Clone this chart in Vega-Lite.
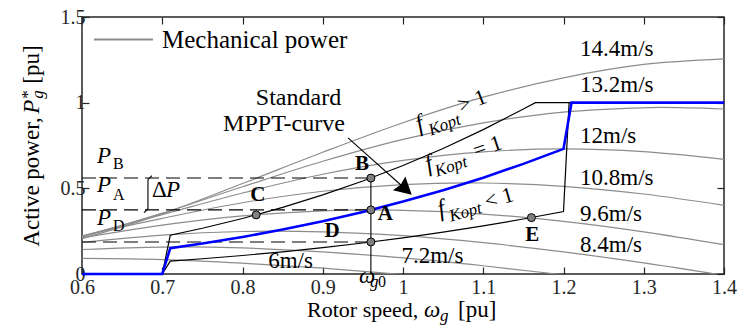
{
  "$schema": "https://vega.github.io/schema/vega-lite/v6.json",
  "width": 642,
  "height": 257,
  "autosize": {"type": "none"},
  "padding": {"left": 82, "top": 17, "right": 14, "bottom": 55},
  "background": "white",
  "config": {
    "view": {"stroke": "#262626", "strokeWidth": 1.5},
    "text": {"font": "Liberation Serif", "color": "black"}
  },
  "datasets": {
    "mech": [
      {"wind": "14.4", "speed": 0.6, "power": 0.206}, {"wind": "14.4", "speed": 0.7, "power": 0.351}, {"wind": "14.4", "speed": 0.8, "power": 0.528}, {"wind": "14.4", "speed": 0.9, "power": 0.7105}, {"wind": "14.4", "speed": 1.0, "power": 0.883}, {"wind": "14.4", "speed": 1.1, "power": 1.032}, {"wind": "14.4", "speed": 1.2, "power": 1.145}, {"wind": "14.4", "speed": 1.3, "power": 1.223}, {"wind": "14.4", "speed": 1.4, "power": 1.256},
      {"wind": "13.2", "speed": 0.6, "power": 0.215}, {"wind": "13.2", "speed": 0.7, "power": 0.355}, {"wind": "13.2", "speed": 0.8, "power": 0.509}, {"wind": "13.2", "speed": 0.9, "power": 0.658}, {"wind": "13.2", "speed": 1.0, "power": 0.786}, {"wind": "13.2", "speed": 1.1, "power": 0.882}, {"wind": "13.2", "speed": 1.2, "power": 0.945}, {"wind": "13.2", "speed": 1.3, "power": 0.970}, {"wind": "13.2", "speed": 1.32, "power": 0.972}, {"wind": "13.2", "speed": 1.4, "power": 0.963},
      {"wind": "12", "speed": 0.6, "power": 0.222}, {"wind": "12", "speed": 0.7, "power": 0.347}, {"wind": "12", "speed": 0.8, "power": 0.473}, {"wind": "12", "speed": 0.9, "power": 0.582}, {"wind": "12", "speed": 1.0, "power": 0.663}, {"wind": "12", "speed": 1.1, "power": 0.713}, {"wind": "12", "speed": 1.2, "power": 0.730}, {"wind": "12", "speed": 1.3, "power": 0.714}, {"wind": "12", "speed": 1.4, "power": 0.669},
      {"wind": "10.8", "speed": 0.6, "power": 0.223}, {"wind": "10.8", "speed": 0.7, "power": 0.325}, {"wind": "10.8", "speed": 0.8, "power": 0.416}, {"wind": "10.8", "speed": 0.9, "power": 0.483}, {"wind": "10.8", "speed": 1.0, "power": 0.522}, {"wind": "10.8", "speed": 1.08, "power": 0.532}, {"wind": "10.8", "speed": 1.1, "power": 0.531}, {"wind": "10.8", "speed": 1.2, "power": 0.512}, {"wind": "10.8", "speed": 1.3, "power": 0.467}, {"wind": "10.8", "speed": 1.4, "power": 0.401},
      {"wind": "9.6", "speed": 0.6, "power": 0.2105}, {"wind": "9.6", "speed": 0.7, "power": 0.285}, {"wind": "9.6", "speed": 0.8, "power": 0.339}, {"wind": "9.6", "speed": 0.9, "power": 0.3685}, {"wind": "9.6", "speed": 0.96, "power": 0.374}, {"wind": "9.6", "speed": 1.0, "power": 0.3716}, {"wind": "9.6", "speed": 1.1, "power": 0.350}, {"wind": "9.6", "speed": 1.2, "power": 0.307}, {"wind": "9.6", "speed": 1.3, "power": 0.246}, {"wind": "9.6", "speed": 1.4, "power": 0.171},
      {"wind": "8.4", "speed": 0.6, "power": 0.184}, {"wind": "8.4", "speed": 0.7, "power": 0.227}, {"wind": "8.4", "speed": 0.8, "power": 0.248}, {"wind": "8.4", "speed": 0.84, "power": 0.250}, {"wind": "8.4", "speed": 0.9, "power": 0.246}, {"wind": "8.4", "speed": 1.0, "power": 0.2235}, {"wind": "8.4", "speed": 1.1, "power": 0.183}, {"wind": "8.4", "speed": 1.2, "power": 0.129}, {"wind": "8.4", "speed": 1.3, "power": 0.065}, {"wind": "8.4", "speed": 1.4, "power": -0.008},
      {"wind": "7.2", "speed": 0.6, "power": 0.143}, {"wind": "7.2", "speed": 0.7, "power": 0.157}, {"wind": "7.2", "speed": 0.72, "power": 0.158}, {"wind": "7.2", "speed": 0.8, "power": 0.152}, {"wind": "7.2", "speed": 0.9, "power": 0.129}, {"wind": "7.2", "speed": 1.0, "power": 0.094}, {"wind": "7.2", "speed": 1.1, "power": 0.048}, {"wind": "7.2", "speed": 1.2, "power": -0.005}, {"wind": "7.2", "speed": 1.3, "power": -0.06},
      {"wind": "6", "speed": 0.6, "power": 0.091}, {"wind": "6", "speed": 0.7, "power": 0.084}, {"wind": "6", "speed": 0.8, "power": 0.063}, {"wind": "6", "speed": 0.9, "power": 0.034}, {"wind": "6", "speed": 1.0, "power": -0.003}, {"wind": "6", "speed": 1.1, "power": -0.04}
    ],
    "ctrl": [
      {"curve": "gt", "speed": 0.6, "power": 0}, {"curve": "gt", "speed": 0.7, "power": 0}, {"curve": "gt", "speed": 0.71, "power": 0.2266}, {"curve": "gt", "speed": 0.75, "power": 0.267}, {"curve": "gt", "speed": 0.8, "power": 0.3241}, {"curve": "gt", "speed": 0.85, "power": 0.3887}, {"curve": "gt", "speed": 0.9, "power": 0.4615}, {"curve": "gt", "speed": 0.95, "power": 0.5427}, {"curve": "gt", "speed": 1.0, "power": 0.633}, {"curve": "gt", "speed": 1.05, "power": 0.7328}, {"curve": "gt", "speed": 1.1, "power": 0.8425}, {"curve": "gt", "speed": 1.15, "power": 0.9627}, {"curve": "gt", "speed": 1.165, "power": 1.0}, {"curve": "gt", "speed": 1.21, "power": 1.0},
      {"curve": "lt", "speed": 0.6, "power": 0}, {"curve": "lt", "speed": 0.7, "power": 0}, {"curve": "lt", "speed": 0.71, "power": 0.0755}, {"curve": "lt", "speed": 0.75, "power": 0.089}, {"curve": "lt", "speed": 0.8, "power": 0.108}, {"curve": "lt", "speed": 0.85, "power": 0.1296}, {"curve": "lt", "speed": 0.9, "power": 0.1538}, {"curve": "lt", "speed": 0.95, "power": 0.1809}, {"curve": "lt", "speed": 1.0, "power": 0.211}, {"curve": "lt", "speed": 1.05, "power": 0.2443}, {"curve": "lt", "speed": 1.1, "power": 0.2808}, {"curve": "lt", "speed": 1.15, "power": 0.3209}, {"curve": "lt", "speed": 1.2, "power": 0.3646}, {"curve": "lt", "speed": 1.207, "power": 1.0}, {"curve": "lt", "speed": 1.21, "power": 1.0}
    ],
    "mppt": [
      {"speed": 0.6, "power": 0}, {"speed": 0.7, "power": 0}, {"speed": 0.71, "power": 0.1512}, {"speed": 0.75, "power": 0.1782}, {"speed": 0.8, "power": 0.2163}, {"speed": 0.85, "power": 0.2595}, {"speed": 0.9, "power": 0.308}, {"speed": 0.95, "power": 0.3622}, {"speed": 1.0, "power": 0.4225}, {"speed": 1.05, "power": 0.4891}, {"speed": 1.1, "power": 0.5623}, {"speed": 1.15, "power": 0.6426}, {"speed": 1.2, "power": 0.7301}, {"speed": 1.21, "power": 1.0}, {"speed": 1.4, "power": 1.0}
    ],
    "levels": [
      {"level": "PB", "from": 0.6, "to": 0.96, "power": 0.56},
      {"level": "PA", "from": 0.6, "to": 0.96, "power": 0.374},
      {"level": "PD", "from": 0.6, "to": 0.96, "power": 0.187}
    ],
    "omega": [{"speed": 0.96, "lo": 0, "hi": 0.56}],
    "ops": [
      {"op": "C", "speed": 0.817, "power": 0.345},
      {"op": "B", "speed": 0.96, "power": 0.56},
      {"op": "A", "speed": 0.96, "power": 0.374},
      {"op": "D", "speed": 0.96, "power": 0.187},
      {"op": "E", "speed": 1.16, "power": 0.329}
    ],
    "arrow": [{"x0": 0.9315, "y0": 0.795, "x1": 1.003, "y1": 0.496}],
    "bracket": [
      {"k": 1, "speed": 0.6872, "power": 0.574},
      {"k": 2, "speed": 0.6822, "power": 0.5505},
      {"k": 3, "speed": 0.6822, "power": 0.3812},
      {"k": 4, "speed": 0.6773, "power": 0.3579}
    ],
    "labels": [
      {"role": "pt", "t": "B", "speed": 0.949, "power": 0.644},
      {"role": "pt", "t": "A", "speed": 0.978, "power": 0.351},
      {"role": "pt", "t": "C", "speed": 0.819, "power": 0.463},
      {"role": "pt", "t": "D", "speed": 0.9115, "power": 0.253},
      {"role": "pt", "t": "E", "speed": 1.161, "power": 0.229},
      {"role": "wind", "t": "14.4m/s", "speed": 1.2206, "power": 1.274},
      {"role": "wind", "t": "13.2m/s", "speed": 1.2206, "power": 1.06},
      {"role": "wind", "t": "12m/s", "speed": 1.2206, "power": 0.765},
      {"role": "wind", "t": "10.8m/s", "speed": 1.2206, "power": 0.521},
      {"role": "wind", "t": "9.6m/s", "speed": 1.2206, "power": 0.311},
      {"role": "wind", "t": "8.4m/s", "speed": 1.2206, "power": 0.13},
      {"role": "wind", "t": "7.2m/s", "speed": 0.998, "power": 0.064},
      {"role": "wind", "t": "6m/s", "speed": 0.832, "power": 0.035},
      {"role": "note", "t": "Standard", "speed": 0.8698, "power": 0.988},
      {"role": "note", "t": "MPPT-curve", "speed": 0.8517, "power": 0.836},
      {"role": "rm", "t": "Δ", "speed": 0.6872, "power": 0.4513},
      {"role": "rm", "t": "[pu]", "speed": 1.0685, "power": -0.2493},
      {"role": "it", "t": "P", "speed": 0.6187, "power": 0.6497},
      {"role": "it", "t": "P", "speed": 0.6187, "power": 0.4805},
      {"role": "it", "t": "P", "speed": 0.6187, "power": 0.2878},
      {"role": "it", "t": "P", "speed": 0.7047, "power": 0.4513},
      {"role": "it", "t": "ω", "speed": 1.0262, "power": -0.2493},
      {"role": "it", "t": "ω", "speed": 0.9452, "power": -0.0508},
      {"role": "xrm", "t": "Rotor speed,", "speed": 0.8804, "power": -0.2493},
      {"role": "rs", "t": "B", "speed": 0.6386, "power": 0.6147},
      {"role": "rs", "t": "A", "speed": 0.6386, "power": 0.4337},
      {"role": "rs", "t": "D", "speed": 0.6386, "power": 0.2528},
      {"role": "rs", "t": "0", "speed": 0.9688, "power": -0.0741},
      {"role": "is", "t": "g", "speed": 1.0461, "power": -0.2726},
      {"role": "is", "t": "g", "speed": 0.9589, "power": -0.0741},
      {"role": "yrm", "t": "Active power,", "speed": 0.5458, "power": 0.1594},
      {"role": "yrm", "t": "[pu]", "speed": 0.5458, "power": 1.111},
      {"role": "yit", "t": "P", "speed": 0.5458, "power": 0.9358},
      {"role": "yis", "t": "g", "speed": 0.552, "power": 1.0234},
      {"role": "yrs", "t": "*", "speed": 0.5389, "power": 1.0234}
    ],
    "fk": [
      {"lab": "gt", "part": "f", "t": "f", "speed": 1.0199, "power": 0.8307},
      {"lab": "gt", "part": "sub", "t": "Kopt", "speed": 1.0349, "power": 0.8074},
      {"lab": "gt", "part": "rel", "t": "> 1", "speed": 1.0723, "power": 0.9416},
      {"lab": "eq", "part": "f", "t": "f", "speed": 1.0312, "power": 0.5972},
      {"lab": "eq", "part": "sub", "t": "Kopt", "speed": 1.0424, "power": 0.568},
      {"lab": "eq", "part": "rel", "t": "= 1", "speed": 1.091, "power": 0.679},
      {"lab": "lt", "part": "f", "t": "f", "speed": 1.0461, "power": 0.3345},
      {"lab": "lt", "part": "sub", "t": "Kopt", "speed": 1.0598, "power": 0.3053},
      {"lab": "lt", "part": "rel", "t": "< 1", "speed": 1.1047, "power": 0.3812}
    ]
  },
  "resolve": {"axis": {"x": "independent", "y": "independent"}},
  "layer": [
    {
      "data": {"name": "mech"},
      "mark": {"type": "line", "clip": true, "strokeWidth": 1.2, "interpolate": "monotone"},
      "encoding": {
        "x": {"field": "speed", "type": "quantitative", "scale": {"domain": [0.6, 1.4], "nice": false, "zero": false},
          "axis": {"orient": "bottom", "values": [0.6, 0.7, 0.8, 0.9, 1, 1.1, 1.2, 1.3, 1.4], "format": "~g", "grid": false, "domain": false, "tickSize": -7, "tickWidth": 1.2, "tickColor": "#262626", "labelFont": "Liberation Serif", "labelFontSize": 20, "labelColor": "#262626", "labelPadding": 10, "labelFlush": false, "labelOverlap": false, "labelBound": false, "title": null}},
        "y": {"field": "power", "type": "quantitative", "scale": {"domain": [0, 1.5], "nice": false},
          "axis": {"orient": "left", "values": [0, 0.5, 1, 1.5], "format": "~g", "grid": false, "domain": false, "tickSize": -7, "tickWidth": 1.2, "tickColor": "#262626", "labelFont": "Liberation Serif", "labelFontSize": 20, "labelColor": "#262626", "labelPadding": 4, "labelFlush": false, "labelOverlap": false, "labelBound": false, "title": null}},
        "detail": {"field": "wind"},
        "color": {"datum": "Mechanical power", "scale": {"range": ["#8c8c8c"]},
          "legend": {"orient": "none", "legendX": 11, "legendY": -8, "title": null, "padding": 0, "symbolType": "stroke", "symbolSize": 3481, "symbolStrokeWidth": 2, "labelFont": "Liberation Serif", "labelFontSize": 25, "labelColor": "black", "labelOffset": 8, "labelLimit": 400}}
      }
    },
    {
      "data": {"name": "levels"},
      "mark": {"type": "rule", "color": "black", "strokeWidth": 1.1, "strokeDash": [14, 7]},
      "encoding": {
        "x": {"field": "from", "type": "quantitative", "axis": null},
        "x2": {"field": "to"},
        "y": {"field": "power", "type": "quantitative", "axis": null}
      }
    },
    {
      "data": {"name": "omega"},
      "mark": {"type": "rule", "color": "black", "strokeWidth": 1.1},
      "encoding": {
        "x": {"field": "speed", "type": "quantitative",
          "axis": {"orient": "top", "values": [0.6, 0.7, 0.8, 0.9, 1, 1.1, 1.2, 1.3, 1.4], "labels": false, "grid": false, "domain": false, "tickSize": -7, "tickWidth": 1.2, "tickColor": "#262626", "title": null}},
        "y": {"field": "lo", "type": "quantitative",
          "axis": {"orient": "right", "values": [0, 0.5, 1, 1.5], "labels": false, "grid": false, "domain": false, "tickSize": -7, "tickWidth": 1.2, "tickColor": "#262626", "title": null}},
        "y2": {"field": "hi"}
      }
    },
    {
      "data": {"name": "ctrl"},
      "mark": {"type": "line", "color": "black", "strokeWidth": 1.2},
      "encoding": {
        "x": {"field": "speed", "type": "quantitative", "axis": null},
        "y": {"field": "power", "type": "quantitative", "axis": null},
        "detail": {"field": "curve"}
      }
    },
    {
      "data": {"name": "mppt"},
      "mark": {"type": "line", "color": "#0000ff", "strokeWidth": 2.6},
      "encoding": {
        "x": {"field": "speed", "type": "quantitative", "axis": null},
        "y": {"field": "power", "type": "quantitative", "axis": null}
      }
    },
    {
      "data": {"name": "bracket"},
      "mark": {"type": "line", "color": "black", "strokeWidth": 1.1},
      "encoding": {
        "x": {"field": "speed", "type": "quantitative", "axis": null},
        "y": {"field": "power", "type": "quantitative", "axis": null},
        "order": {"field": "k"}
      }
    },
    {
      "data": {"name": "arrow"},
      "mark": {"type": "rule", "color": "black", "strokeWidth": 1.1},
      "encoding": {
        "x": {"field": "x0", "type": "quantitative", "axis": null},
        "y": {"field": "y0", "type": "quantitative", "axis": null},
        "x2": {"field": "x1"},
        "y2": {"field": "y1"}
      }
    },
    {
      "data": {"name": "arrow"},
      "mark": {"type": "point", "shape": "M1,0L-1,-1.1L-0.75,0L-1,1.1Z", "filled": true, "color": "black", "opacity": 1, "size": 289, "angle": 41.8},
      "encoding": {
        "x": {"field": "x1", "type": "quantitative", "axis": null},
        "y": {"field": "y1", "type": "quantitative", "axis": null}
      }
    },
    {
      "data": {"name": "ops"},
      "mark": {"type": "point", "shape": "circle", "filled": true, "fill": "#808080", "stroke": "black", "strokeWidth": 1, "opacity": 1, "size": 64},
      "encoding": {
        "x": {"field": "speed", "type": "quantitative", "axis": null},
        "y": {"field": "power", "type": "quantitative", "axis": null}
      }
    },
    {
      "data": {"name": "labels"},
      "transform": [{"filter": "datum.role === 'pt'"}],
      "mark": {"type": "text", "font": "Liberation Serif", "fontSize": 21, "fontWeight": "bold", "align": "center", "baseline": "middle"},
      "encoding": {
        "x": {"field": "speed", "type": "quantitative", "axis": null},
        "y": {"field": "power", "type": "quantitative", "axis": null},
        "text": {"field": "t"}
      }
    },
    {
      "data": {"name": "labels"},
      "transform": [{"filter": "datum.role === 'wind'"}],
      "mark": {"type": "text", "font": "Liberation Serif", "fontSize": 23, "align": "left", "baseline": "alphabetic"},
      "encoding": {
        "x": {"field": "speed", "type": "quantitative", "axis": null},
        "y": {"field": "power", "type": "quantitative", "axis": null},
        "text": {"field": "t"}
      }
    },
    {
      "data": {"name": "labels"},
      "transform": [{"filter": "datum.role === 'note'"}],
      "mark": {"type": "text", "font": "Liberation Serif", "fontSize": 24, "align": "center", "baseline": "alphabetic"},
      "encoding": {
        "x": {"field": "speed", "type": "quantitative", "axis": null},
        "y": {"field": "power", "type": "quantitative", "axis": null},
        "text": {"field": "t"}
      }
    },
    {
      "data": {"name": "labels"},
      "transform": [{"filter": "datum.role === 'rm'"}],
      "mark": {"type": "text", "font": "Liberation Serif", "fontSize": 23, "align": "left", "baseline": "alphabetic"},
      "encoding": {
        "x": {"field": "speed", "type": "quantitative", "axis": null},
        "y": {"field": "power", "type": "quantitative", "axis": null},
        "text": {"field": "t"}
      }
    },
    {
      "data": {"name": "labels"},
      "transform": [{"filter": "datum.role === 'xrm'"}],
      "mark": {"type": "text", "font": "Liberation Serif", "fontSize": 22, "align": "left", "baseline": "alphabetic"},
      "encoding": {
        "x": {"field": "speed", "type": "quantitative", "axis": null},
        "y": {"field": "power", "type": "quantitative", "axis": null},
        "text": {"field": "t"}
      }
    },
    {
      "data": {"name": "labels"},
      "transform": [{"filter": "datum.role === 'it'"}],
      "mark": {"type": "text", "font": "Liberation Serif", "fontSize": 23, "fontStyle": "italic", "align": "left", "baseline": "alphabetic"},
      "encoding": {
        "x": {"field": "speed", "type": "quantitative", "axis": null},
        "y": {"field": "power", "type": "quantitative", "axis": null},
        "text": {"field": "t"}
      }
    },
    {
      "data": {"name": "labels"},
      "transform": [{"filter": "datum.role === 'rs'"}],
      "mark": {"type": "text", "font": "Liberation Serif", "fontSize": 16, "align": "left", "baseline": "alphabetic"},
      "encoding": {
        "x": {"field": "speed", "type": "quantitative", "axis": null},
        "y": {"field": "power", "type": "quantitative", "axis": null},
        "text": {"field": "t"}
      }
    },
    {
      "data": {"name": "labels"},
      "transform": [{"filter": "datum.role === 'is'"}],
      "mark": {"type": "text", "font": "Liberation Serif", "fontSize": 17, "fontStyle": "italic", "align": "left", "baseline": "alphabetic"},
      "encoding": {
        "x": {"field": "speed", "type": "quantitative", "axis": null},
        "y": {"field": "power", "type": "quantitative", "axis": null},
        "text": {"field": "t"}
      }
    },
    {
      "data": {"name": "labels"},
      "transform": [{"filter": "datum.role === 'yrm'"}],
      "mark": {"type": "text", "font": "Liberation Serif", "fontSize": 23, "angle": 270, "align": "left", "baseline": "alphabetic"},
      "encoding": {
        "x": {"field": "speed", "type": "quantitative", "axis": null},
        "y": {"field": "power", "type": "quantitative", "axis": null},
        "text": {"field": "t"}
      }
    },
    {
      "data": {"name": "labels"},
      "transform": [{"filter": "datum.role === 'yit'"}],
      "mark": {"type": "text", "font": "Liberation Serif", "fontSize": 23, "fontStyle": "italic", "angle": 270, "align": "left", "baseline": "alphabetic"},
      "encoding": {
        "x": {"field": "speed", "type": "quantitative", "axis": null},
        "y": {"field": "power", "type": "quantitative", "axis": null},
        "text": {"field": "t"}
      }
    },
    {
      "data": {"name": "labels"},
      "transform": [{"filter": "datum.role === 'yis'"}],
      "mark": {"type": "text", "font": "Liberation Serif", "fontSize": 17, "fontStyle": "italic", "angle": 270, "align": "left", "baseline": "alphabetic"},
      "encoding": {
        "x": {"field": "speed", "type": "quantitative", "axis": null},
        "y": {"field": "power", "type": "quantitative", "axis": null},
        "text": {"field": "t"}
      }
    },
    {
      "data": {"name": "labels"},
      "transform": [{"filter": "datum.role === 'yrs'"}],
      "mark": {"type": "text", "font": "Liberation Serif", "fontSize": 17, "angle": 270, "align": "left", "baseline": "alphabetic"},
      "encoding": {
        "x": {"field": "speed", "type": "quantitative", "axis": null},
        "y": {"field": "power", "type": "quantitative", "axis": null},
        "text": {"field": "t"}
      }
    },
    {
      "data": {"name": "fk"},
      "transform": [{"filter": "datum.part === 'f'"}],
      "mark": {"type": "text", "font": "Liberation Serif", "fontSize": 24, "fontStyle": "italic", "align": "left", "baseline": "alphabetic"},
      "encoding": {
        "x": {"field": "speed", "type": "quantitative", "axis": null},
        "y": {"field": "power", "type": "quantitative", "axis": null},
        "angle": {"field": "lab", "type": "nominal", "scale": {"domain": ["gt", "eq", "lt"], "range": [339, 344, 347]}, "legend": null},
        "text": {"field": "t"}
      }
    },
    {
      "data": {"name": "fk"},
      "transform": [{"filter": "datum.part === 'sub'"}],
      "mark": {"type": "text", "font": "Liberation Serif", "fontSize": 17, "fontStyle": "italic", "align": "left", "baseline": "alphabetic"},
      "encoding": {
        "x": {"field": "speed", "type": "quantitative", "axis": null},
        "y": {"field": "power", "type": "quantitative", "axis": null},
        "angle": {"field": "lab", "type": "nominal", "scale": {"domain": ["gt", "eq", "lt"], "range": [339, 344, 347]}, "legend": null},
        "text": {"field": "t"}
      }
    },
    {
      "data": {"name": "fk"},
      "transform": [{"filter": "datum.part === 'rel'"}],
      "mark": {"type": "text", "font": "Liberation Serif", "fontSize": 22, "align": "left", "baseline": "alphabetic"},
      "encoding": {
        "x": {"field": "speed", "type": "quantitative", "axis": null},
        "y": {"field": "power", "type": "quantitative", "axis": null},
        "angle": {"field": "lab", "type": "nominal", "scale": {"domain": ["gt", "eq", "lt"], "range": [339, 344, 347]}, "legend": null},
        "text": {"field": "t"}
      }
    }
  ]
}
